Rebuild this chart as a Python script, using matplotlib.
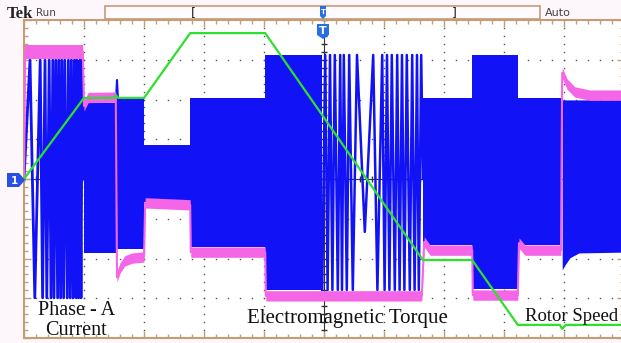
import numpy as np
import matplotlib.patches as patches
from matplotlib import pyplot as plt

# Scope screen: time in divisions (0..10), amplitude in divisions (-4..4)

# Rotor speed (green)
speed_t = [0.0, 1.0, 1.5, 1.53, 1.57, 2.0, 2.77, 4.02, 6.65, 7.47, 8.23, 8.93, 8.97, 9.03, 10.0]
speed_v = [0.0, 2.04, 2.04, 2.11, 2.04, 2.04, 3.67, 3.67, -2.04, -2.04, -3.67, -3.67, -3.77, -3.67, -3.67]

# Electromagnetic torque (magenta)
torque_t = [0.0, 0.02, 0.98, 1.0, 1.07, 1.53, 1.55, 1.6, 1.68, 1.8, 2.0, 2.02, 2.77, 2.78, 4.02,
            4.03, 6.63, 6.67, 6.77, 7.47, 7.48, 8.23, 8.25, 8.35, 8.95, 8.97, 9.05, 9.18, 9.43, 10.0]
torque_v = [0.0, 3.2, 3.2, 1.84, 2.05, 2.06, -2.47, -2.24, -2.06, -1.99, -1.96, -0.6, -0.65, -1.84, -1.84,
            -2.94, -2.94, -1.58, -1.79, -1.79, -2.92, -2.92, -1.61, -1.79, -1.79, 2.67, 2.39, 2.19, 2.11, 2.11]

# Phase-A current (blue): dense stretches given by their envelope
seg_start = [1.0, 1.53, 2.0, 2.77, 4.02, 6.65, 7.47, 8.23]
seg_end = [1.53, 2.0, 2.77, 4.02, 4.97, 7.47, 8.23, 8.97]
seg_top = [1.91, 2.06, 0.86, 2.04, 3.12, 2.04, 3.12, 2.04]
seg_bot = [-1.86, -1.76, -0.58, -1.71, -2.79, -1.66, -2.77, -1.66]

tail_t = [8.97, 9.0, 9.1, 9.25, 10.0]
tail_top = [1.99, 1.99, 1.99, 1.99, 1.99]
tail_bot = [-2.29, -2.2, -1.98, -1.86, -1.84]

# start-up cycles (slow, individual peaks)
start_peak_t = [0.1, 0.27, 0.35, 0.42, 0.48, 0.53, 0.58, 0.63, 0.68, 0.74, 0.79, 0.84, 0.88, 0.93, 0.97]
start_trough_t = [0.18, 0.31, 0.38, 0.45, 0.5, 0.56, 0.61, 0.66, 0.72, 0.77, 0.82, 0.87, 0.91, 0.95]
start_peak_v = 2.99
start_trough_v = -2.99

# speed reversal cycles
mid_peak_t = [5.02, 5.1, 5.18, 5.27, 5.33, 5.42, 5.55, 5.82, 5.97, 6.05, 6.13, 6.22, 6.3, 6.38, 6.47, 6.55, 6.62]
mid_peak_v = [3.12] * 17
mid_trough_t = [5.06, 5.14, 5.23, 5.3, 5.38, 5.48, 5.68, 5.89, 6.01, 6.09, 6.18, 6.26, 6.34, 6.43, 6.51, 6.58]
mid_trough_v = [-2.79, -2.79, -2.79, -2.79, -2.79, -2.79, -1.33, -2.79,
                -2.79, -2.79, -2.79, -2.79, -2.79, -2.79, -2.79, -2.79]

BLUE = '#1212f6'
PINK = '#f466e6'
GREEN = '#2ee02e'
TAN = '#c49c76'

W, H = 621, 343
fig = plt.figure(figsize=(W / 100, H / 100), dpi=100)
fig.patch.set_facecolor('#fdf7fb')

ax = fig.add_axes([24 / W, 5 / H, 600 / W, 318 / H])
ax.set_facecolor('white')
ax.set_xlim(0, 10)
ax.set_ylim(-4, 4)

# graticule
ax.set_xticks(np.arange(0, 10.01, 1))
ax.set_yticks(np.arange(-4, 4.01, 1))
ax.set_xticks(np.arange(0, 10.01, 0.2), minor=True)
ax.set_yticks(np.arange(-4, 4.01, 0.2), minor=True)
ax.tick_params(which='both', direction='in', top=True, right=True,
               labelbottom=False, labelleft=False, color=TAN)
ax.tick_params(which='major', length=5, width=1)
ax.tick_params(which='minor', length=3, width=1)
for s in ax.spines.values():
    s.set_color(TAN)
    s.set_linewidth(1.5)

for gx in range(1, 10):
    ax.plot(np.full(41, gx), np.linspace(-4, 4, 41), ls='none', marker='s',
            ms=1.0, mew=0, color='#555555', zorder=1)
for gy in range(-3, 4):
    ax.plot(np.linspace(0, 10, 51), np.full(51, gy), ls='none', marker='s',
            ms=1.0, mew=0, color='#555555', zorder=1)

ax.axhline(0, color='#333333', lw=0.8, zorder=1)
ax.axvline(5, color='#333333', lw=0.8, zorder=1)
tk = np.arange(0, 10.01, 0.2)
ax.plot(tk, np.zeros_like(tk), ls='none', marker='|', ms=4, color='#333333', zorder=1)
tk = np.arange(-4, 4.01, 0.2)
ax.plot(np.full_like(tk, 5), tk, ls='none', marker='_', ms=4, color='#333333', zorder=1)

# phase current: envelopes
for x0, x1, top, bot in zip(seg_start, seg_end, seg_top, seg_bot):
    ax.fill_between([x0, x1], [bot, bot], [top, top], color=BLUE, lw=0, zorder=2)
ax.fill_between(tail_t, tail_bot, tail_top, color=BLUE, lw=0, zorder=2)
ax.plot([1.53, 1.55, 1.57], [1.9, 2.49, 1.9], color=BLUE, lw=1.5, zorder=2)

# phase current: individual cycles
zx, zy = [0.0], [0.0]
for i, p in enumerate(start_peak_t):
    zx.append(p)
    zy.append(start_peak_v)
    if i < len(start_trough_t):
        zx.append(start_trough_t[i])
        zy.append(start_trough_v)
zx.append(1.0)
zy.append(0.0)
ax.plot(zx, zy, color=BLUE, lw=2.0, zorder=2)

mx, my = [4.97], [-2.79]
for i, p in enumerate(mid_peak_t):
    mx.append(p)
    my.append(mid_peak_v[i])
    if i < len(mid_trough_t):
        mx.append(mid_trough_t[i])
        my.append(mid_trough_v[i])
mx.append(6.65)
my.append(0.0)
ax.plot(mx, my, color=BLUE, lw=1.8, zorder=2)

# torque band (a bit wider during the start-up burst)
tv = np.array(torque_v)
ax.fill_between(torque_t, tv - 0.13, tv + 0.13, color=PINK, lw=0, zorder=3)
ax.fill_between(torque_t[1:3], tv[1:3] - 0.18, tv[1:3] + 0.18, color=PINK, lw=0, zorder=3)
ax.plot(torque_t, torque_v, color=PINK, lw=1.5, zorder=3)

# rotor speed
ax.plot(speed_t, speed_v, color=GREEN, lw=1.6, zorder=4)

# screen furniture, in pixel coordinates
ov = fig.add_axes([0, 0, 1, 1], zorder=5)
ov.set_xlim(0, W)
ov.set_ylim(H, 0)
ov.axis('off')
ov.patch.set_alpha(0)

ov.text(7, 13.5, 'Tek', fontsize=12, weight='bold', family='Liberation Serif',
        color='#222222', va='center', ha='left')
ov.text(36, 13, 'Run', fontsize=7.5, color='#444444', va='center', ha='left')
ov.text(545, 13, 'Auto', fontsize=8, color='#444444', va='center', ha='left')
ov.add_patch(patches.Rectangle((105, 6), 435, 13, fc='#fffafd', ec=TAN, lw=1.2))
ov.text(193, 12.5, '[', fontsize=9, color='#222222', va='center', ha='center')
ov.text(454, 12.5, ']', fontsize=9, color='#222222', va='center', ha='center')

ov.add_patch(patches.Polygon([(320, 6), (326, 6), (326, 16), (323, 19), (320, 16)],
                             closed=True, fc='#2a6ee6', ec='none'))
ov.text(323, 11.5, 'T', fontsize=5, color='white', weight='bold', ha='center', va='center')
ov.add_patch(patches.Polygon([(317, 24), (329, 24), (329, 35), (323, 39), (317, 35)],
                             closed=True, fc='#2a6ee6', ec='none'))
ov.text(323, 30.5, 'T', fontsize=8, color='white', weight='bold', ha='center', va='center')

ov.add_patch(patches.Polygon([(7, 173), (19, 173), (25, 180), (19, 187), (7, 187)],
                             closed=True, fc='#2a4fe6', ec='none'))
ov.text(14, 180.5, '1', fontsize=7.5, color='white', weight='bold', ha='center', va='center')

# trace labels
serif = 'Liberation Serif'
ov.text(38, 315, 'Phase - A', fontsize=14.5, family=serif, color='#111111', va='baseline')
ov.text(45, 335, 'Current', fontsize=14.5, family=serif, color='#111111', va='baseline')
ov.text(247, 323, 'Electromagnetic Torque', fontsize=15, family=serif, color='#111111', va='baseline')
ov.text(525, 321, 'Rotor Speed', fontsize=13.5, family=serif, color='#111111', va='baseline')

plt.savefig('out.png', dpi=100)
plt.close()
